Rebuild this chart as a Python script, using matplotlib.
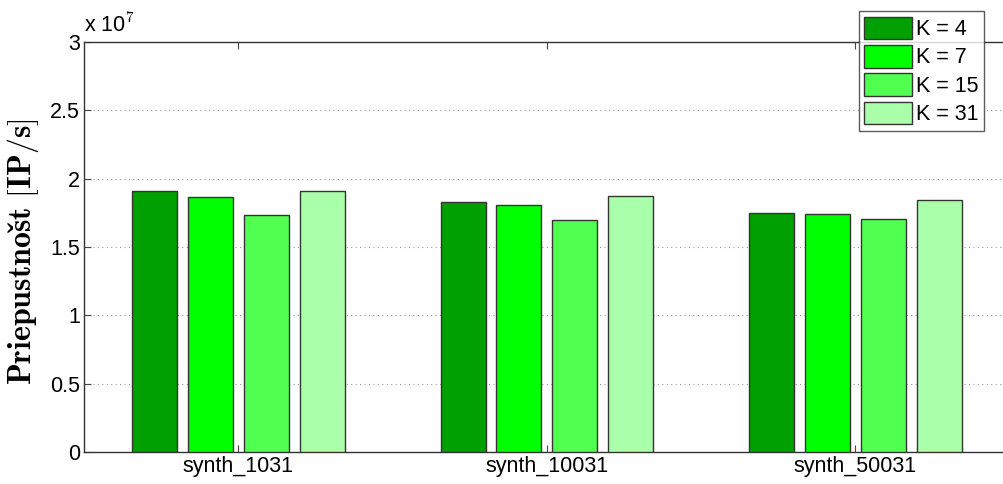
import matplotlib
matplotlib.use("Agg")
import matplotlib.pyplot as plt
import numpy as np

categories = ["synth_1031", "synth_10031", "synth_50031"]
series_labels = ["K = 4", "K = 7", "K = 15", "K = 31"]
values = {
    "K = 4":  [1.909e7, 1.829e7, 1.748e7],
    "K = 7":  [1.865e7, 1.807e7, 1.741e7],
    "K = 15": [1.734e7, 1.697e7, 1.704e7],
    "K = 31": [1.909e7, 1.873e7, 1.843e7],
}
colors = ["#00A000", "#00FF00", "#50FF50", "#AAFFAA"]
yticks = [0, 0.5e7, 1e7, 1.5e7, 2e7, 2.5e7, 3e7]
ytick_labels = ["0", "0.5", "1", "1.5", "2", "2.5", "3"]

plt.rcParams['font.family'] = ['Liberation Sans', 'DejaVu Sans']
plt.rcParams['mathtext.fontset'] = 'cm'

fig = plt.figure(figsize=(10.04, 4.84), dpi=100)
ax = fig.add_axes([0.0837, 0.066, 0.922, 0.847])

x = np.arange(1, len(categories) + 1)
width = 0.146
step = 0.181
for i, lab in enumerate(series_labels):
    ax.bar(x + (i - 1.5) * step, values[lab], width=width, color=colors[i],
           edgecolor="#333333", linewidth=1.0, label=lab, zorder=3)

ax.set_xlim(0.5, 3.5)
ax.set_ylim(0, 3e7)
ax.set_yticks(yticks)
ax.set_yticklabels(ytick_labels)
ax.set_xticks(x)
ax.set_xticklabels(categories)
ax.tick_params(axis='both', direction='in', labelsize=15.5, length=5, color='#444444',
               top=True, right=True, pad=3)
for s in ax.spines.values():
    s.set_color('#333333')
    s.set_linewidth(1.0)
ax.yaxis.grid(True, linestyle=(0, (1, 3)), color='#999999', linewidth=0.8, zorder=0)
ax.set_axisbelow(True)

fig.text(0.084, 0.925, r"x 10$^{7}$", fontsize=15.5, ha='left', va='bottom')
ax.set_ylabel(r"$\mathbf{Priepustnos\check{t}\ [IP/s]}$", fontsize=23)
ax.yaxis.set_label_coords(-0.046, 0.49)

leg = fig.legend(loc='upper left', bbox_to_anchor=(0.8555, 0.977), fontsize=15.5,
                 frameon=True, fancybox=False, edgecolor='#333333',
                 handlelength=2.2, handleheight=1.25, handletextpad=0.2,
                 labelspacing=0.22, borderpad=0.25, borderaxespad=0)
leg.get_frame().set_linewidth(1.0)

fig.savefig("out.png", dpi=100)
